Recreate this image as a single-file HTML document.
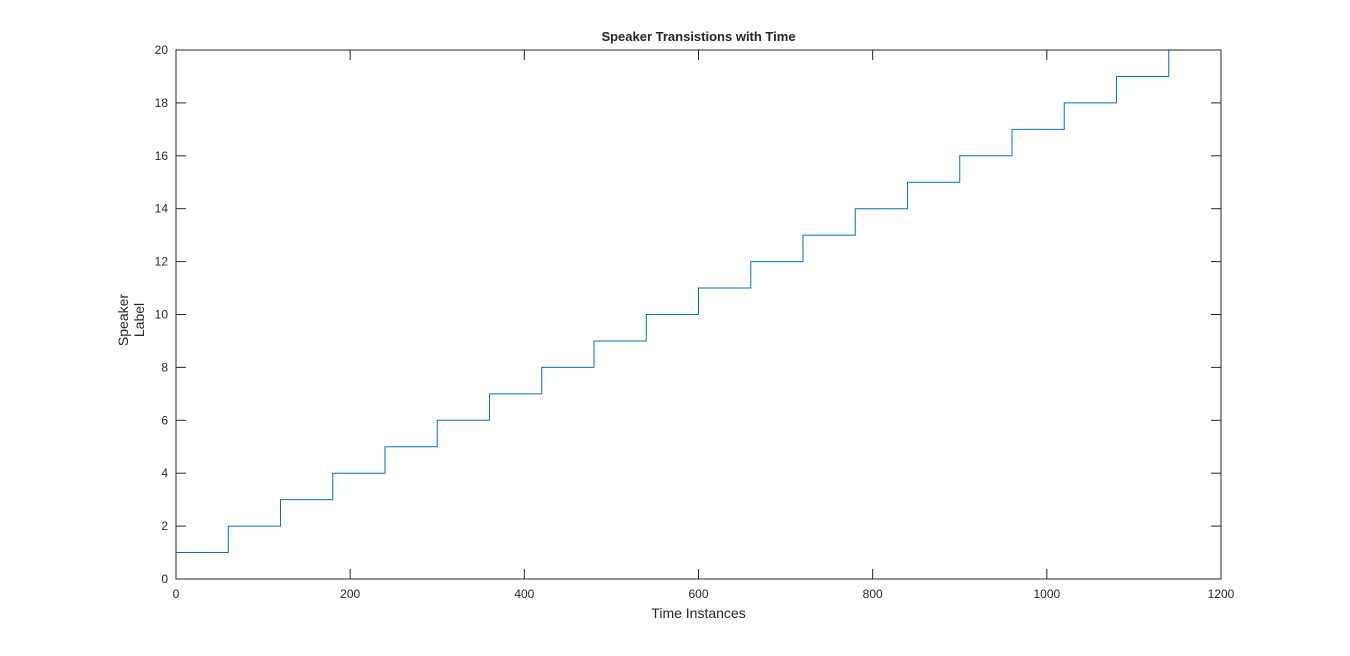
<!DOCTYPE html>
<html><head><meta charset="utf-8"><style>
body{margin:0;background:#fff;width:1350px;height:651px;overflow:hidden}
svg text{font-family:"Liberation Sans",Arial,sans-serif;fill:#262626}
</style></head><body>
<svg id="chart" width="1350" height="651" xmlns="http://www.w3.org/2000/svg">
<rect x="0" y="0" width="1350" height="651" fill="#fff"/>
<g id="plot"></g>
</svg>
<script>
const segmentStarts=[0,60,120,180,240,300,360,420,480,540,600,660,720,780,840,900,960,1020,1080,1140];
const segmentEnds=[60,120,180,240,300,360,420,480,540,600,660,720,780,840,900,960,1020,1080,1140,1200];
const speakerLabels=[1,2,3,4,5,6,7,8,9,10,11,12,13,14,15,16,17,18,19,20];
const xTicks=[0,200,400,600,800,1000,1200];
const yTicks=[0,2,4,6,8,10,12,14,16,18,20];
const L=176,R=1221,T=50,B=579;
const sx=v=>L+(v-0)/1200*(R-L);
const sy=v=>B-(v-0)/20*(B-T);
const NS='http://www.w3.org/2000/svg';
const g=document.getElementById('plot');
function mk(t,a){const e=document.createElementNS(NS,t);for(const k in a)e.setAttribute(k,a[k]);g.appendChild(e);return e;}
// series
let d='';
for(let i=0;i<speakerLabels.length;i++){
  const y=sy(speakerLabels[i]);
  d+=(i===0?'M':'L')+sx(segmentStarts[i])+','+y+'L'+sx(segmentEnds[i])+','+y;
}
const line=mk('path',{d:d,fill:'none',stroke:'#0072BD','stroke-width':1});


// box
const box=mk('rect',{x:L,y:T,width:R-L,height:B-T,fill:'none',stroke:'#262626','stroke-width':1});


xTicks.forEach(v=>{
  const x=sx(v);
  mk('line',{x1:x,x2:x,y1:B,y2:B-10,stroke:'#262626'});
  mk('line',{x1:x,x2:x,y1:T,y2:T+10,stroke:'#262626'});
  const t=mk('text',{x:x,y:B+19,'text-anchor':'middle','font-size':12});
  t.textContent=v;
  
  
});
yTicks.forEach(v=>{
  const y=sy(v);
  mk('line',{x1:L,x2:L+10,y1:y,y2:y,stroke:'#262626'});
  mk('line',{x1:R,x2:R-10,y1:y,y2:y,stroke:'#262626'});
  const t=mk('text',{x:L-8,y:y+4,'text-anchor':'end','font-size':12});
  t.textContent=v;
  
  
});
const title=mk('text',{x:(L+R)/2,y:41,'text-anchor':'middle','font-size':13,'font-weight':'bold',fill:'#000'});
title.textContent='Speaker Transistions with Time';


const xl=mk('text',{x:(L+R)/2,y:618,'text-anchor':'middle','font-size':14});
xl.textContent='Time Instances';


const yl=mk('text',{transform:'translate(136,320) rotate(-90)','text-anchor':'middle','font-size':14});


const s1=document.createElementNS(NS,'tspan');s1.setAttribute('x',0);s1.setAttribute('dy',-8);s1.textContent='Speaker';yl.appendChild(s1);
const s2=document.createElementNS(NS,'tspan');s2.setAttribute('x',0);s2.setAttribute('dy',16);s2.textContent='Label';yl.appendChild(s2);
</script>
</body></html>
